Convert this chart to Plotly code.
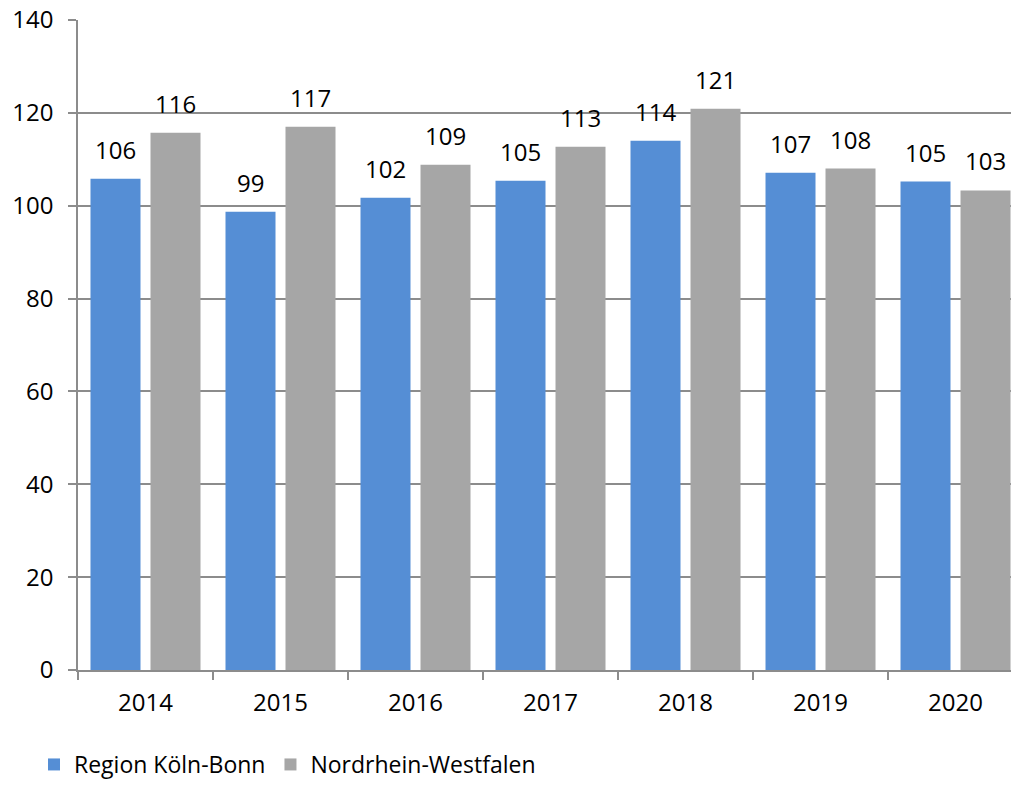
import plotly.graph_objects as go

years = ["2014", "2015", "2016", "2017", "2018", "2019", "2020"]
koeln_bonn = [105.8, 98.7, 101.7, 105.4, 114.0, 107.1, 105.2]
nrw = [115.7, 117.0, 108.8, 112.7, 120.9, 108.0, 103.3]
y_ticks = [0, 20, 40, 60, 80, 100, 120, 140]

FONT = "Open Sans"
fig = go.Figure()
fig.add_trace(go.Bar(
    x=years, y=koeln_bonn, name="Region Köln-Bonn",
    marker=dict(color="#558ED5", line=dict(width=0)),
))
fig.add_trace(go.Bar(
    x=years, y=nrw, name="Nordrhein-Westfalen",
    marker=dict(color="#A6A6A6", line=dict(width=0)),
))

# data labels as annotations above each bar (x given as category index)
annotations = []
for series, shift in ((koeln_bonn, -30), (nrw, 30)):
    for i, v in enumerate(series):
        annotations.append(dict(
            xref="x", yref="y", x=i, y=v, text=str(round(v)),
            showarrow=False, xshift=shift, yshift=11, yanchor="bottom",
            font=dict(size=24, family=FONT, color="#000000"),
        ))

fig.update_layout(
    width=1011, height=786,
    margin=dict(l=78, r=0, t=20, b=116, autoexpand=False),
    paper_bgcolor="white", plot_bgcolor="white",
    font=dict(family=FONT, size=24, color="#000000"),
    barmode="group", bargap=0.111, bargroupgap=0.1667,
    showlegend=True,
    annotations=annotations,
    legend=dict(
        orientation="h", xref="container", yref="container",
        x=34 / 1011, y=-4 / 786, xanchor="left", yanchor="bottom",
        font=dict(size=23, family=FONT),
        itemwidth=30, traceorder="normal",
    ),
)
fig.update_xaxes(
    type="category", range=[-0.5, 6.411],
    showline=True, linecolor="#8C8C8C", linewidth=1.5,
    ticks="outside", ticklen=8, tickcolor="#8C8C8C", tickwidth=1.5,
    tickson="boundaries", showgrid=False, ticklabelstandoff=10,
    tickfont=dict(size=24, family=FONT), automargin=False,
)
fig.update_yaxes(
    range=[0, 140], tickvals=y_ticks,
    showline=True, linecolor="#8C8C8C", linewidth=1.5,
    ticks="outside", ticklen=8, tickcolor="#8C8C8C", tickwidth=1.5,
    showgrid=True, gridcolor="#8C8C8C", gridwidth=1.5,
    zeroline=False, ticklabelstandoff=10, ticklabeloverflow="allow",
    tickfont=dict(size=24, family=FONT), automargin=False,
)

fig.write_html(
    "out.html",
    config={"displayModeBar": False},
    post_script="document.body.style.margin='0';document.body.style.overflow='hidden';",
)
